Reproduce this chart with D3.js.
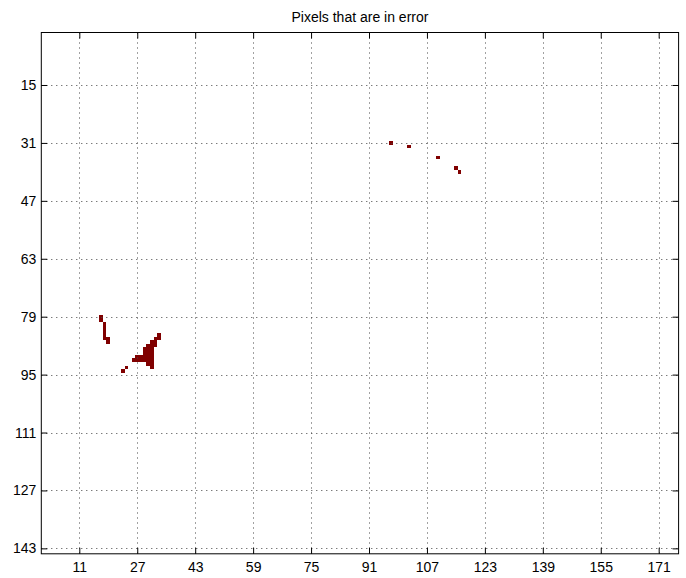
<!DOCTYPE html>
<html>
<head>
<meta charset="utf-8">
<script src="https://cdn.jsdelivr.net/npm/d3@7"></script>
<style>
  html, body { margin: 0; padding: 0; background: #fff; }
  svg text { font-family: "Liberation Sans", Arial, Helvetica, sans-serif; }
</style>
</head>
<body>
<svg id="chart" width="686" height="578"></svg>
<script>
// ---- data ----
const title = "Pixels that are in error";
const imageCols = 176;
const imageRows = 144;
const xTickValues = [11, 27, 43, 59, 75, 91, 107, 123, 139, 155, 171];
const yTickValues = [15, 31, 47, 63, 79, 95, 111, 127, 143];
// error pixel coordinates (column, row), 1-based image indices
const errorCols = [97, 102, 110, 115, 116,
  17, 17, 18, 18, 18, 18, 18, 19, 19,
  23, 24,
  33,
  32, 33,
  31, 32,
  30, 31, 32,
  29, 30, 31,
  29, 30, 31,
  27, 28, 29, 30, 31,
  26, 27, 28, 29, 30, 31,
  30, 31,
  31];
const errorRows = [31, 32, 35, 38, 39,
  79, 80, 81, 82, 83, 84, 85, 85, 86,
  94, 93,
  84,
  85, 85,
  86, 86,
  87, 87, 87,
  88, 88, 88,
  89, 89, 89,
  90, 90, 90, 90, 90,
  91, 91, 91, 91, 91, 91,
  92, 92,
  93];
const errorColor = "#800000";

// ---- layout ----
const plotLeft = 41.3, plotRight = 678.6, plotTop = 32.5, plotBottom = 553.8;
const svg = d3.select("#chart");

const x = d3.scaleLinear().domain([0.5, imageCols + 0.5]).range([plotLeft, plotRight]);
const y = d3.scaleLinear().domain([0.5, imageRows + 0.5]).range([plotTop, plotBottom]);

svg.append("rect").attr("x", 0).attr("y", 0).attr("width", 686).attr("height", 578).attr("fill", "#fff");

// pixels (edges snapped to device pixels so neighbours join without seams)
const pixels = errorCols.map((c, i) => ({c, r: errorRows[i]}));
svg.append("g").selectAll("rect").data(pixels).join("rect")
  .attr("x", d => Math.round(x(d.c - 0.5)))
  .attr("y", d => Math.round(y(d.r - 0.5)))
  .attr("width", d => Math.round(x(d.c + 0.5)) - Math.round(x(d.c - 0.5)))
  .attr("height", d => Math.round(y(d.r + 0.5)) - Math.round(y(d.r - 0.5)))
  .attr("fill", errorColor)
  .attr("shape-rendering", "crispEdges");

// grid
const grid = svg.append("g").attr("stroke", "#444").attr("stroke-width", 1).attr("stroke-dasharray", "1,4");
grid.selectAll("line.gx").data(xTickValues).join("line").attr("class", "gx")
  .attr("x1", d => Math.round(x(d)) + 0.5).attr("x2", d => Math.round(x(d)) + 0.5)
  .attr("y1", plotTop).attr("y2", plotBottom);
grid.selectAll("line.gy").data(yTickValues).join("line").attr("class", "gy")
  .attr("y1", d => Math.round(y(d)) + 0.5).attr("y2", d => Math.round(y(d)) + 0.5)
  .attr("x1", plotLeft).attr("x2", plotRight);

// axes
const tickLen = 6;
const fontSize = 14;
const axB = svg.append("g").attr("transform", `translate(0,${plotBottom})`)
  .call(d3.axisBottom(x).tickValues(xTickValues).tickSizeInner(-tickLen).tickSizeOuter(0).tickPadding(8));
const axT = svg.append("g").attr("transform", `translate(0,${plotTop})`)
  .call(d3.axisTop(x).tickValues(xTickValues).tickSizeInner(-tickLen).tickSizeOuter(0).tickFormat(""));
const axL = svg.append("g").attr("transform", `translate(${plotLeft},0)`)
  .call(d3.axisLeft(y).tickValues(yTickValues).tickSizeInner(-tickLen).tickSizeOuter(0).tickPadding(5));
const axR = svg.append("g").attr("transform", `translate(${plotRight},0)`)
  .call(d3.axisRight(y).tickValues(yTickValues).tickSizeInner(-tickLen).tickSizeOuter(0).tickFormat(""));
[axB, axT, axL, axR].forEach(a => {
  a.selectAll(".domain").remove();
  a.selectAll("line").attr("stroke", "#000");
  a.selectAll("text").attr("font-size", fontSize).attr("fill", "#000")
    .attr("font-family", '"Liberation Sans", Arial, Helvetica, sans-serif');
});

// box
svg.append("rect").attr("x", plotLeft).attr("y", plotTop)
  .attr("width", plotRight - plotLeft).attr("height", plotBottom - plotTop)
  .attr("fill", "none").attr("stroke", "#000").attr("stroke-width", 1);

// title
svg.append("text").attr("x", (plotLeft + plotRight) / 2).attr("y", 21.5)
  .attr("text-anchor", "middle").attr("font-size", fontSize).attr("fill", "#000")
  .text(title);
</script>
</body>
</html>
